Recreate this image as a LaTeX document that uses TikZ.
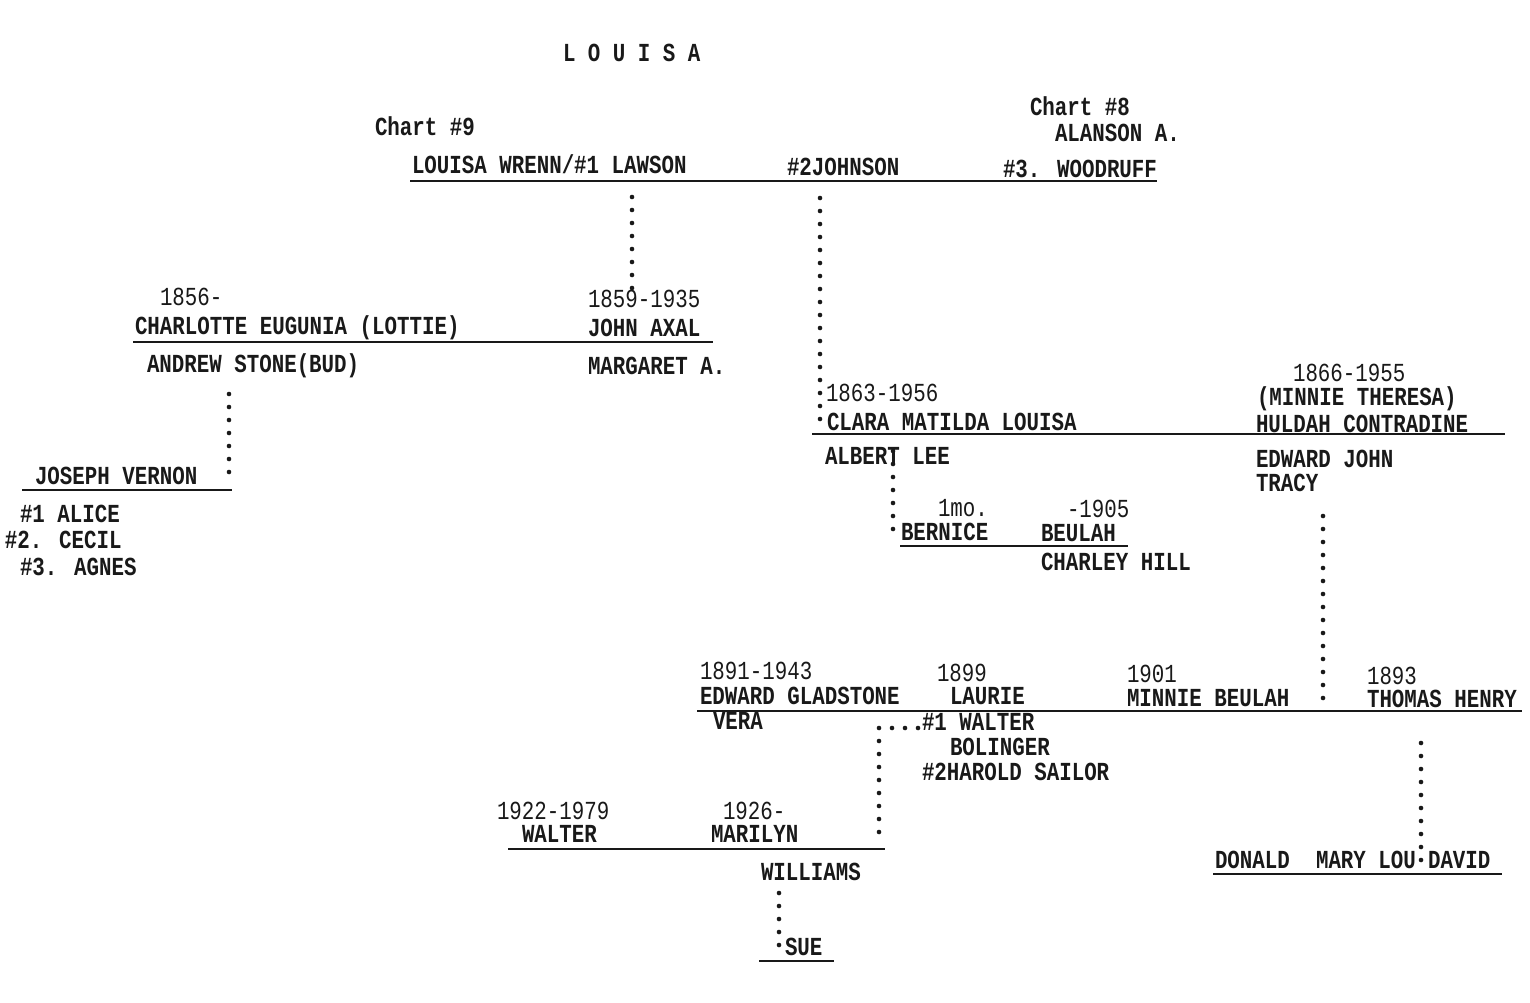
\documentclass[tikz,border=0pt]{standalone}
\usepackage{fontspec}
\newfontfamily\tw[FakeStretch=0.8]{Liberation Mono}
\begin{document}
\begin{tikzpicture}[x=1pt,y=-1pt,
  lbl/.style={font=\tw\fontsize{26}{26}\selectfont\bfseries, anchor=base west, inner sep=0pt, outer sep=0pt, text height=16pt, text depth=1pt, text=black!90},
  yr/.style={lbl, font=\tw\fontsize{26}{26}\selectfont},
  uline/.style={line width=1.8pt, black!90},
  dotline/.style={line width=4.6pt, line cap=round, dash pattern=on 0pt off 13pt, black!90}]
\useasboundingbox[fill=white] (0,0) rectangle (1530,1002);

% title and top couple
\node[lbl] (title) at (563,61) {L O U I S A};
\node[lbl] (chart9) at (375,135) {Chart \#9};
\node[lbl] (chart8) at (1030,115) {Chart \#8};
\node[lbl] (alanson) at (1055,141) {ALANSON A.};
\node[lbl] (louisa) at (412,173) {LOUISA WRENN/\#1 LAWSON};
\node[lbl] (johnson) at (787,175) {\#2JOHNSON};
\node[lbl] (woodruff) at (1003,177) {\#3. WOODRUFF};
\coordinate (u1a) at (410,181); \coordinate (u1b) at (1157,181);
\draw[uline] (u1a) -- (u1b);

% Lawson children
\node[yr] (y1856) at (160,305) {1856-};
\node[lbl] (charlotte) at (135,334) {CHARLOTTE EUGUNIA (LOTTIE)};
\node[yr] (y1859) at (588,307) {1859-1935};
\node[lbl] (johnaxal) at (588,336) {JOHN AXAL};
\coordinate (u2a) at (133,342); \coordinate (u2b) at (713,342);
\draw[uline] (u2a) -- (u2b);
\node[lbl] (andrew) at (147,372) {ANDREW STONE(BUD)};
\node[lbl] (margaret) at (588,374) {MARGARET A.};
\coordinate (d1a) at (632,197); \coordinate (d1b) at (632,289);
\draw[dotline] (d1a) -- (d1b);

\coordinate (d3a) at (229,394); \coordinate (d3b) at (229,485);
\draw[dotline] (d3a) -- (d3b);
\node[lbl] (joseph) at (35,484) {JOSEPH VERNON};
\coordinate (u3a) at (22,490); \coordinate (u3b) at (232,490);
\draw[uline] (u3a) -- (u3b);
\node[lbl] (alice) at (20,522) {\#1 ALICE};
\node[lbl] (cecil) at (5,548) {\#2. CECIL};
\node[lbl] (agnes) at (20,575) {\#3. AGNES};

% Johnson children
\coordinate (d2a) at (820,198); \coordinate (d2b) at (820,426);
\draw[dotline] (d2a) -- (d2b);
\node[yr] (y1863) at (826,401) {1863-1956};
\node[lbl] (clara) at (827,430) {CLARA MATILDA LOUISA};
\node[yr] (y1866) at (1293,381) {1866-1955};
\node[lbl] (minniet) at (1257,405) {(MINNIE THERESA)};
\node[lbl] (huldah) at (1256,432) {HULDAH CONTRADINE};
\coordinate (u4a) at (812,434); \coordinate (u4b) at (1505,434);
\draw[uline] (u4a) -- (u4b);
\node[lbl] (albert) at (825,464) {ALBERT LEE};
\node[lbl] (edwardj) at (1256,467) {EDWARD JOHN};
\node[lbl] (tracy) at (1256,491) {TRACY};

\coordinate (d4a) at (893,451); \coordinate (d4b) at (893,538);
\draw[dotline] (d4a) -- (d4b);
\node[yr] (y1mo) at (938,516) {1mo.};
\node[yr] (y1905) at (1067,517) {-1905};
\node[lbl] (bernice) at (901,540) {BERNICE};
\node[lbl] (beulah) at (1041,541) {BEULAH};
\coordinate (u5a) at (900,546); \coordinate (u5b) at (1128,546);
\draw[uline] (u5a) -- (u5b);
\node[lbl] (charley) at (1041,570) {CHARLEY HILL};

% Huldah children
\coordinate (d5a) at (1323,516); \coordinate (d5b) at (1323,705);
\draw[dotline] (d5a) -- (d5b);
\node[yr] (y1891) at (700,679) {1891-1943};
\node[lbl] (edwardg) at (700,704) {EDWARD GLADSTONE};
\node[yr] (y1899) at (937,681) {1899};
\node[lbl] (laurie) at (950,704) {LAURIE};
\node[yr] (y1901) at (1127,682) {1901};
\node[lbl] (minnieb) at (1127,706) {MINNIE BEULAH};
\node[yr] (y1893) at (1367,684) {1893};
\node[lbl] (thomas) at (1367,707) {THOMAS HENRY};
\coordinate (u6a) at (697,711); \coordinate (u6b) at (1522,711);
\draw[uline] (u6a) -- (u6b);
\node[lbl] (vera) at (713,729) {VERA};
\node[lbl] (walter1) at (922,730) {\#1 WALTER};
\node[lbl] (bolinger) at (950,755) {BOLINGER};
\node[lbl] (harold) at (922,780) {\#2HAROLD SAILOR};
\coordinate (d6a) at (918,728); \coordinate (d6b) at (879,728); \coordinate (d6c) at (879,842);
\draw[dotline] (d6a) -- (d6b) -- (d6c);

% Laurie's children
\node[yr] (y1922) at (497,819) {1922-1979};
\node[lbl] (walter) at (522,842) {WALTER};
\node[yr] (y1926) at (723,819) {1926-};
\node[lbl] (marilyn) at (711,842) {MARILYN};
\coordinate (u7a) at (508,849); \coordinate (u7b) at (885,849);
\draw[uline] (u7a) -- (u7b);
\node[lbl] (williams) at (761,880) {WILLIAMS};
\coordinate (d7a) at (779,893); \coordinate (d7b) at (779,954);
\draw[dotline] (d7a) -- (d7b);
\node[lbl] (sue) at (785,955) {SUE};
\coordinate (u8a) at (759,961); \coordinate (u8b) at (834,961);
\draw[uline] (u8a) -- (u8b);

% Thomas Henry's children
\coordinate (d8a) at (1421,743); \coordinate (d8b) at (1421,865);
\draw[dotline] (d8a) -- (d8b);
\node[lbl] (donald) at (1215,868) {DONALD};
\node[lbl] (marylou) at (1316,868) {MARY LOU};
\node[lbl] (david) at (1428,868) {DAVID};
\coordinate (u9a) at (1213,874); \coordinate (u9b) at (1502,874);
\draw[uline] (u9a) -- (u9b);
\end{tikzpicture}
\end{document}
